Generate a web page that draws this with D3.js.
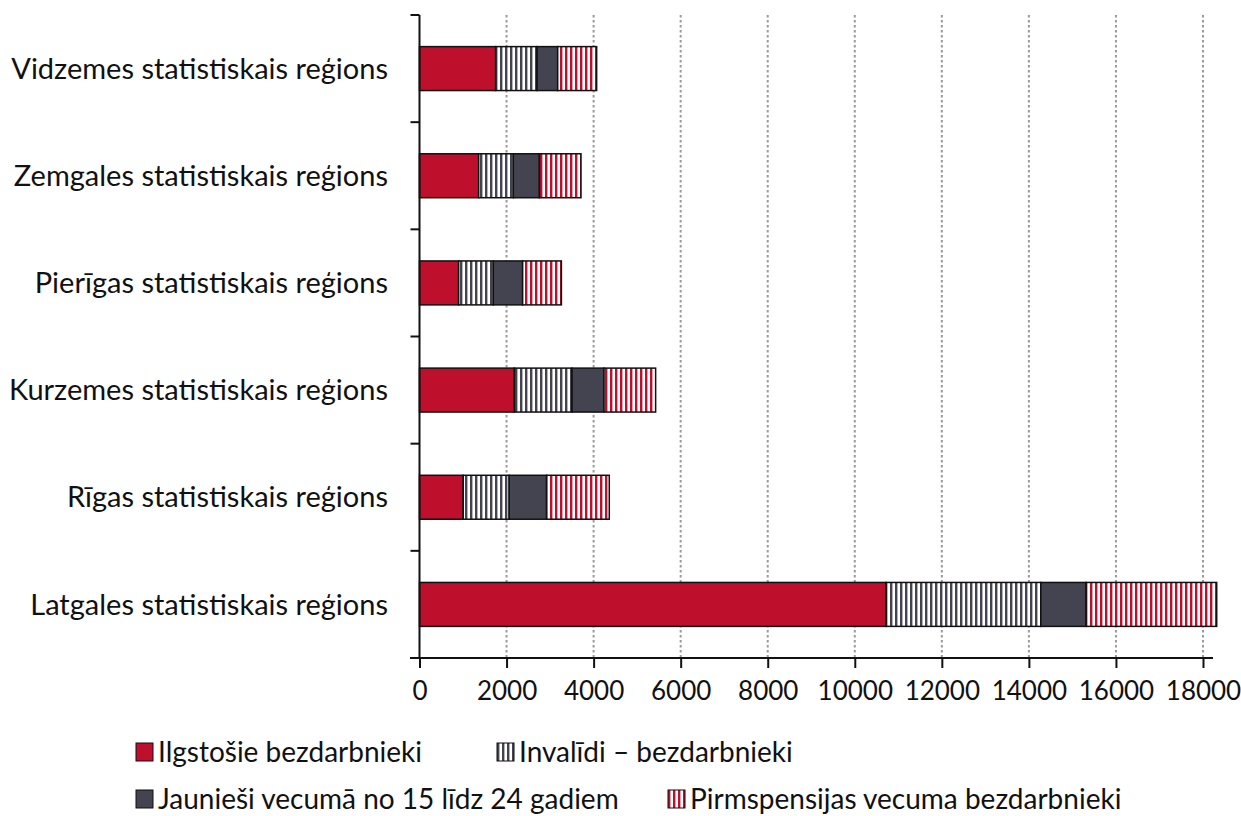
<!DOCTYPE html>
<html>
<head>
<meta charset="utf-8">
<script src="https://cdn.jsdelivr.net/npm/d3@7"></script>
<style>
  body { margin: 0; background: #fff; }
  svg text { font-family: Lato, "Open Sans", sans-serif; fill: #111; }
</style>
</head>
<body>
<div class="chart"></div>
<script>
// Data
const regions = [
  'Vidzemes statistiskais reģions',
  'Zemgales statistiskais reģions',
  'Pierīgas statistiskais reģions',
  'Kurzemes statistiskais reģions',
  'Rīgas statistiskais reģions',
  'Latgales statistiskais reģions'
];
const seriesNames = [
  'Ilgstošie bezdarbnieki',
  'Invalīdi – bezdarbnieki',
  'Jaunieši vecumā no 15 līdz 24 gadiem',
  'Pirmspensijas vecuma bezdarbnieki'
];
const longTerm   = [1750, 1360, 900, 2180, 1005, 10720];
const disabled   = [950, 795, 795, 1325, 1055, 3555];
const youth      = [475, 600, 675, 735, 860, 1040];
const preRetire  = [895, 955, 890, 1185, 1440, 3000];
const xTicks = [0, 2000, 4000, 6000, 8000, 10000, 12000, 14000, 16000, 18000];

const width = 1241, height = 816;
const margin = { top: 15, right: 38, bottom: 158, left: 419.5 };

const svg = d3.select('.chart').append('svg')
  .attr('width', width)
  .attr('height', height);

// fills: solid red, dark stripes, solid dark, red stripes
const red = '#be0f2c', dark = '#43444f';
const defs = svg.append('defs');
function stripes(id, color) {
  const p = defs.append('pattern')
    .attr('id', id)
    .attr('patternUnits', 'userSpaceOnUse')
    .attr('width', 5).attr('height', 10);
  p.append('rect').attr('width', 5).attr('height', 10).attr('fill', '#fff');
  p.append('rect').attr('x', 0).attr('width', 2.4).attr('height', 10).attr('fill', color);
}
stripes('darkStripes', dark);
stripes('redStripes', red);
const fills = [red, 'url(#darkStripes)', dark, 'url(#redStripes)'];

const table = regions.map((r, i) => ({
  region: r,
  [seriesNames[0]]: longTerm[i],
  [seriesNames[1]]: disabled[i],
  [seriesNames[2]]: youth[i],
  [seriesNames[3]]: preRetire[i]
}));
const stacked = d3.stack().keys(seriesNames)(table);

const x = d3.scaleLinear()
  .domain([0, 18000])
  .range([margin.left, 1203]);
const y = d3.scaleBand()
  .domain(regions)
  .range([margin.top, 658])
  .paddingInner(0.59)
  .paddingOuter(0.295);

// gridlines
svg.append('g')
  .selectAll('line')
  .data(xTicks.slice(1))
  .join('line')
    .attr('x1', d => x(d)).attr('x2', d => x(d))
    .attr('y1', margin.top).attr('y2', 658)
    .attr('stroke', '#9a9a9a')
    .attr('stroke-width', 2)
    .attr('stroke-dasharray', '2.5,2.5');

// bars
svg.append('g')
  .selectAll('g')
  .data(stacked)
  .join('g')
    .attr('fill', (d, i) => fills[i])
  .selectAll('rect')
  .data(d => d)
  .join('rect')
    .attr('x', d => x(d[0]))
    .attr('y', d => y(d.data.region))
    .attr('width', d => x(d[1]) - x(d[0]))
    .attr('height', y.bandwidth())
    .attr('stroke', '#111')
    .attr('stroke-width', 1.5);

// y axis: line with ticks between categories
const yAxisG = svg.append('g');
yAxisG.append('line')
  .attr('x1', margin.left).attr('x2', margin.left)
  .attr('y1', margin.top).attr('y2', 658)
  .attr('stroke', '#111').attr('stroke-width', 2);
const step = y.step();
yAxisG.selectAll('.sep')
  .data(d3.range(regions.length))
  .join('line')
    .attr('class', 'sep')
    .attr('x1', margin.left - 9).attr('x2', margin.left)
    .attr('y1', i => y(regions[i]) - y.paddingOuter() * step)
    .attr('y2', i => y(regions[i]) - y.paddingOuter() * step)
    .attr('stroke', '#111').attr('stroke-width', 2);
yAxisG.selectAll('.cat')
  .data(regions)
  .join('text')
    .attr('class', 'cat')
    .attr('x', 388)
    .attr('y', d => y(d) + y.bandwidth() / 2)
    .attr('dy', '0.35em')
    .attr('text-anchor', 'end')
    .attr('font-size', 29)
    .text(d => d);

// x axis
const xAxis = d3.axisBottom(x)
  .tickValues(xTicks)
  .tickSize(10)
  .tickPadding(14)
  .tickFormat(d3.format('d'));
const xAxisG = svg.append('g')
  .attr('transform', 'translate(0,658)')
  .call(xAxis);
xAxisG.select('.domain').remove();
xAxisG.append('line')
  .attr('x1', 410).attr('x2', 1213)
  .attr('stroke', '#111').attr('stroke-width', 2);
xAxisG.selectAll('.tick line').attr('stroke', '#111').attr('stroke-width', 2);
xAxisG.selectAll('.tick text')
  .attr('font-size', 26)
  .attr('fill', '#111')
  .style('font-family', 'Lato, "Open Sans", sans-serif');

// legend
const legendPos = [
  { x: 136, y: 752 },
  { x: 497, y: 752 },
  { x: 136, y: 799 },
  { x: 668, y: 799 }
];
const legend = svg.append('g')
  .selectAll('g')
  .data(seriesNames)
  .join('g')
    .attr('transform', (d, i) => `translate(${legendPos[i].x},${legendPos[i].y})`);
legend.append('rect')
  .attr('x', 0).attr('y', -9)
  .attr('width', 17).attr('height', 18)
  .attr('fill', (d, i) => fills[i])
  .attr('stroke', '#111').attr('stroke-width', 1);
legend.append('text')
  .attr('x', 22)
  .attr('dy', '0.35em')
  .attr('font-size', 28)
  .text(d => d);
</script>
</body>
</html>
